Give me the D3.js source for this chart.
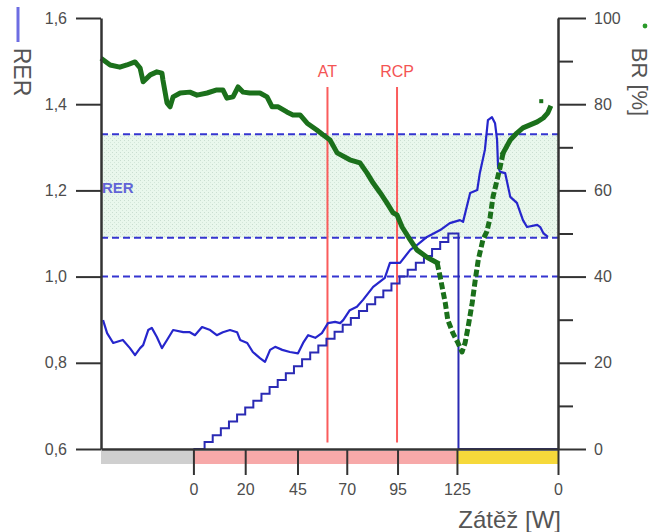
<!DOCTYPE html>
<html>
<head>
<meta charset="utf-8">
<script src="https://cdn.jsdelivr.net/npm/d3@7"></script>
<style>
  body { margin: 0; background: #fff; }
  svg { display: block; }
  text { font-family: "Liberation Sans", Arial, sans-serif; }
</style>
</head>
<body>
<svg id="chart" width="656" height="532"></svg>
<script>
// ---- data (time in seconds from start of recording) ----
const rerTimes = [4, 12, 24, 43, 57, 67, 77, 83, 93, 100, 110, 120, 130, 142, 162, 175, 185, 199, 215, 228,
  240, 254, 268, 274, 288, 299, 313, 323, 333, 343, 357, 372, 388, 398, 408, 422, 435, 447, 461, 471,
  477, 490, 504, 516, 536, 559, 569, 589, 609, 624, 642, 668, 687, 707, 713, 727, 741, 746, 756, 762,
  770, 776, 780, 782, 786, 796, 806, 819, 831, 839, 859, 865, 871, 880];
const rerValues = [0.899, 0.869, 0.846, 0.853, 0.834, 0.818, 0.834, 0.841, 0.876, 0.881, 0.860, 0.834, 0.853, 0.876, 0.871, 0.871, 0.864, 0.883, 0.876, 0.864,
  0.871, 0.876, 0.871, 0.853, 0.846, 0.825, 0.811, 0.802, 0.830, 0.837, 0.830, 0.825, 0.822, 0.846, 0.864, 0.858, 0.869, 0.892, 0.895, 0.892,
  0.899, 0.922, 0.930, 0.946, 0.976, 0.997, 1.032, 1.032, 1.062, 1.075, 1.092, 1.108, 1.124, 1.131, 1.127, 1.194, 1.201, 1.240, 1.294, 1.363,
  1.370, 1.356, 1.317, 1.254, 1.243, 1.240, 1.185, 1.171, 1.131, 1.115, 1.120, 1.115, 1.101, 1.092];

const brTimes = [4, 18, 37, 51, 67, 77, 83, 97, 110, 120, 122, 130, 136, 142, 156, 175, 189, 209, 228, 240,
  248, 260, 270, 280, 293, 313, 327, 337, 349, 366, 378, 392, 406, 425, 437, 451, 465, 490, 510, 524,
  536, 550, 563, 575, 583, 593, 609, 622, 642, 662, 668, 678, 683, 693, 703, 711, 717, 723, 731, 737,
  743, 752, 760, 766, 772, 780, 786, 792, 806, 819, 831, 845, 859, 871, 880, 884];
const brValues = [90.3, 89.1, 88.6, 89.1, 89.8, 88.4, 85.2, 86.8, 87.5, 87.2, 85.6, 80.3, 79.4, 81.7, 82.6, 82.8, 82.1, 82.6, 83.3, 83.3,
  81.4, 81.7, 84.0, 82.8, 82.6, 82.6, 81.7, 79.4, 79.4, 78.2, 77.5, 77.5, 75.6, 74.0, 72.9, 71.7, 68.7, 67.1, 66.4, 64.0,
  61.7, 59.4, 57.1, 54.8, 54.3, 51.5, 48.5, 46.2, 44.5, 43.2, 39.9, 33.9, 29.9, 26.9, 24.6, 22.5, 24.6, 28.3, 33.9, 39.2,
  43.9, 48.5, 50.5, 53.5, 58.5, 62.4, 65.4, 68.7, 71.7, 73.3, 74.5, 75.2, 75.9, 76.8, 78.0, 79.1];
const brLooseTimes = [867];
const brLooseValues = [80.7];
// stretch where breath samples are sparse (drawn broken)
const brSparseFrom = 662, brSparseTo = 792;

// load protocol [W]: rest, ramp in steps, recovery
const loadTimes = [182, 204, 220, 236, 252, 268, 284, 300, 316, 332, 348, 364, 380, 396, 412, 428, 444, 460,
  476, 492, 508, 524, 540, 556, 572, 588, 604, 620, 636, 652, 668, 684, 704, 900];
const loadValues = [0, 4, 8, 12, 16, 20, 24, 28, 32, 36, 40, 44, 48, 52, 56, 60, 64, 68,
  72, 76, 80, 84, 88, 92, 96, 100, 104, 108, 112, 116, 120, 125, 0, 0];

const xTickTimes = [182, 284, 387, 484, 584, 701, 900];
const xTickLabels = ["0", "20", "45", "70", "95", "125", "0"];

const rerTicks = [0.6, 0.8, 1.0, 1.2, 1.4, 1.6];
const brTicks = [0, 10, 20, 30, 40, 50, 60, 70, 80, 90, 100];

const rerBand = [1.09, 1.33];
const rerRefLines = [1.33, 1.09, 1.0];

const markerNames = ["AT", "RCP"];
const markerTimes = [446, 583];

const phaseStarts = [0, 182, 700];
const phaseEnds = [182, 700, 900];
const phaseColors = ["#cfcfcf", "#f7a9a9", "#f6d93a"];

// ---- scales ----
const svg = d3.select("#chart");
const plotLeft = 101, plotRight = 558, plotTop = 18, plotBottom = 449;

const x = d3.scaleLinear().domain([0, 900]).range([plotLeft, plotRight]);
const yRer = d3.scaleLinear().domain([0.6, 1.6]).range([plotBottom, plotTop]);
const yBr = d3.scaleLinear().domain([0, 100]).range([plotBottom, plotTop]);
const yLoad = d3.scaleLinear().domain([0, 250]).range([plotBottom, plotTop]);

// ---- dotted fill for the RER reference band ----
const defs = svg.append("defs");
const pat = defs.append("pattern").attr("id", "dots")
  .attr("width", 4).attr("height", 4).attr("patternUnits", "userSpaceOnUse");
pat.append("rect").attr("width", 4).attr("height", 4).attr("fill", "#e9f7ec");
pat.append("rect").attr("x", 0).attr("y", 0).attr("width", 1).attr("height", 1).attr("fill", "#c9ddd0");
pat.append("rect").attr("x", 2).attr("y", 2).attr("width", 1).attr("height", 1).attr("fill", "#d3e6d9");

svg.append("rect")
  .attr("x", x(0)).attr("width", x(900) - x(0))
  .attr("y", yRer(rerBand[1])).attr("height", yRer(rerBand[0]) - yRer(rerBand[1]))
  .attr("fill", "url(#dots)");

svg.append("text")
  .attr("x", x(2)).attr("y", yRer(1.2) + 3)
  .attr("fill", "#4b4bd4").attr("font-size", 15).attr("font-weight", "bold").attr("opacity", 0.85)
  .text("RER");

// reference lines
svg.selectAll(".ref").data(rerRefLines).join("line")
  .attr("x1", x(0)).attr("x2", x(900))
  .attr("y1", d => yRer(d)).attr("y2", d => yRer(d))
  .attr("stroke", "#3535d0").attr("stroke-width", 2).attr("stroke-dasharray", "7,4");

// ---- AT / RCP markers ----
markerTimes.forEach((t, i) => {
  svg.append("line")
    .attr("x1", x(t)).attr("x2", x(t))
    .attr("y1", yRer(1.44)).attr("y2", yRer(0.615))
    .attr("stroke", "#fa5c5c").attr("stroke-width", 2);
  svg.append("text")
    .attr("x", x(t)).attr("y", yRer(1.44) - 10)
    .attr("text-anchor", "middle").attr("fill", "#f45454").attr("font-size", 16)
    .text(markerNames[i]);
});

// ---- load staircase ----
const loadPts = loadTimes.map((t, i) => [t, loadValues[i]]);
svg.append("path")
  .datum(loadPts)
  .attr("d", d3.line().x(d => x(d[0])).y(d => yLoad(d[1])).curve(d3.curveStepAfter))
  .attr("fill", "none").attr("stroke", "#2a2ab4").attr("stroke-width", 2);

// ---- RER ----
const rerPts = rerTimes.map((t, i) => [t, rerValues[i]]);
svg.append("path")
  .datum(rerPts)
  .attr("d", d3.line().x(d => x(d[0])).y(d => yRer(d[1])))
  .attr("fill", "none").attr("stroke", "#2626cc").attr("stroke-width", 2.2)
  .attr("stroke-linejoin", "round");

// ---- BR ----
const brPts = brTimes.map((t, i) => [t, brValues[i]]);
const brLine = d3.line().x(d => x(d[0])).y(d => yBr(d[1]));
const brDense1 = brPts.filter(d => d[0] <= brSparseFrom);
const brSparse = brPts.filter(d => d[0] >= brSparseFrom && d[0] <= brSparseTo);
const brDense2 = brPts.filter(d => d[0] >= brSparseTo);
[brDense1, brDense2].forEach(seg => {
  svg.append("path").datum(seg).attr("d", brLine)
    .attr("fill", "none").attr("stroke", "#1b701b").attr("stroke-width", 5)
    .attr("stroke-linejoin", "round").attr("stroke-linecap", "square");
});
svg.append("path").datum(brSparse).attr("d", brLine)
  .attr("fill", "none").attr("stroke", "#1b701b").attr("stroke-width", 5)
  .attr("stroke-dasharray", "7,3").attr("stroke-linejoin", "round");
svg.selectAll(".brdot").data(brLooseTimes).join("rect")
  .attr("x", d => x(d) - 2).attr("y", (d, i) => yBr(brLooseValues[i]) - 2)
  .attr("width", 4).attr("height", 4).attr("fill", "#1b701b");

// ---- phase strip under the x axis ----
phaseStarts.forEach((s, i) => {
  svg.append("rect")
    .attr("x", x(s)).attr("width", x(phaseEnds[i]) - x(s))
    .attr("y", plotBottom + 2).attr("height", 13)
    .attr("fill", phaseColors[i]);
});

// ---- axes ----
function styleAxis(g) {
  g.select(".domain").attr("stroke", "#333").attr("stroke-width", 2.5);
  g.selectAll(".tick line").attr("stroke", "#333").attr("stroke-width", 2);
  g.selectAll(".tick text").attr("fill", "#4d4d4d").attr("font-size", 16)
    .attr("font-family", "'Liberation Sans', Arial, sans-serif");
}

const gLeft = svg.append("g").attr("transform", `translate(${plotLeft},0)`)
  .call(d3.axisLeft(yRer).tickValues(rerTicks).tickSize(25).tickSizeOuter(0).tickPadding(9)
    .tickFormat(d => d3.format(".1f")(d).replace(".", ",")));
styleAxis(gLeft);

const gRight = svg.append("g").attr("transform", `translate(${plotRight},0)`)
  .call(d3.axisRight(yBr).tickValues(brTicks).tickSize(28).tickSizeOuter(0).tickPadding(8)
    .tickFormat(d => d % 20 === 0 ? d : ""));
styleAxis(gRight);
gRight.selectAll(".tick line").filter(d => d % 20 !== 0).attr("x2", 15);

const gBottom = svg.append("g").attr("transform", `translate(0,${plotBottom})`)
  .call(d3.axisBottom(x).tickValues(xTickTimes).tickSize(26).tickSizeOuter(0).tickPadding(9)
    .tickFormat((d, i) => xTickLabels[i]));
styleAxis(gBottom);

// ---- axis titles and legend keys ----
svg.append("line").attr("x1", 18).attr("x2", 18).attr("y1", 7).attr("y2", 42)
  .attr("stroke", "#6d6de2").attr("stroke-width", 3);
svg.append("text")
  .attr("transform", "translate(22,72) rotate(90)")
  .attr("text-anchor", "middle").attr("dominant-baseline", "central")
  .attr("fill", "#555").attr("font-size", 23).text("RER");

svg.append("circle").attr("cx", 645).attr("cy", 26).attr("r", 2.4).attr("fill", "#2a9a2a");
svg.append("text")
  .attr("transform", "translate(639,82) rotate(90)")
  .attr("text-anchor", "middle").attr("dominant-baseline", "central")
  .attr("fill", "#555").attr("font-size", 22).text("BR [%]");

svg.append("text")
  .attr("x", 561).attr("y", 528).attr("text-anchor", "end")
  .attr("fill", "#555").attr("font-size", 24).text("Zátěž [W]");
</script>
</body>
</html>
